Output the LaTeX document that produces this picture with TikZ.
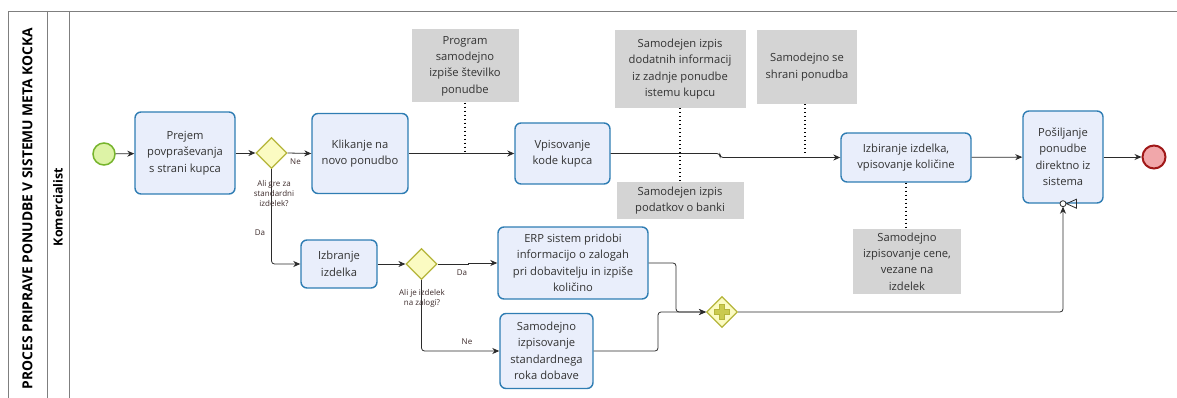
\documentclass[tikz,border=0pt]{standalone}
\usepackage{fontspec}
\setmainfont{Open Sans}
\usetikzlibrary{arrows.meta,shapes.geometric}
\definecolor{taskfill}{HTML}{E9EEFB}
\definecolor{taskline}{HTML}{2F7DB3}
\definecolor{gwfill}{HTML}{FBFBC2}
\definecolor{gwline}{HTML}{B5B53A}
\definecolor{plusfill}{HTML}{CACA4E}
\definecolor{notefill}{HTML}{D4D4D4}
\definecolor{textc}{HTML}{333333}
\definecolor{flowc}{HTML}{2B2B2B}
\definecolor{lblc}{HTML}{3D2B2B}
\definecolor{poolc}{HTML}{7F7F7F}
\definecolor{startfill}{HTML}{DDF3A6}
\definecolor{startline}{HTML}{76B42C}
\definecolor{endfill}{HTML}{F1A7AA}
\definecolor{endline}{HTML}{A01818}
\begin{document}
\begin{tikzpicture}[x=1pt,y=-1pt,
  task/.style={draw=taskline,fill=taskfill,line width=1.4pt,rounded corners=6pt,
    align=center,text=textc,inner sep=2pt,font=\fontsize{11.2}{16.5}\selectfont},
  note/.style={fill=notefill,align=center,text=textc,inner sep=2pt,
    font=\fontsize{11.2}{16.3}\selectfont},
  gateway/.style={diamond,draw=gwline,fill=gwfill,line width=1.2pt,
    minimum width=31,minimum height=31,inner sep=0pt},
  flow/.style={draw=flowc,line width=0.8pt,rounded corners=3pt,
    -{Stealth[length=7pt,width=6pt]}},
  assoc/.style={draw=black,line width=1.2pt,dash pattern=on 1.2pt off 2.8pt},
  lbl/.style={text=lblc,font=\fontsize{8}{10}\selectfont,align=center,inner sep=0pt},
  poolline/.style={draw=poolc,line width=0.9pt}]
\useasboundingbox (0,0) rectangle (1177,398);

% pool and lane frame
\draw[poolline] (8,398) -- (8,11) -- (1177,11);
\draw[poolline] (47,11) -- (47,398);
\draw[poolline] (69,11) -- (69,398);
\node[rotate=90,font=\bfseries\fontsize{13.8}{15}\selectfont,text=black] (pooltitle) at (27.5,208.5)
  {PROCES PRIPRAVE PONUDBE V SISTEMU META KOCKA};
\node[rotate=90,font=\bfseries\fontsize{12.5}{14}\selectfont,text=black] (lanetitle) at (58,207)
  {Komercialist};

% events
\node[circle,draw=startline,fill=startfill,line width=1.5pt,minimum size=22,inner sep=0pt] (start) at (104,154) {};
\node[circle,draw=endline,fill=endfill,line width=2pt,minimum size=23,inner sep=0pt] (end) at (1154,157) {};

% tasks
\node[task,minimum width=100,minimum height=82] (t1) at (185,153) {Prejem\\povpraševanja\\s strani kupca};
\node[task,minimum width=96,minimum height=80] (t2) at (360,153.5) {Klikanje na\\novo ponudbo};
\node[task,minimum width=95,minimum height=61] (t3) at (562.5,153.5) {Vpisovanje\\kode kupca};
\node[task,minimum width=130,minimum height=49] (t4) at (906,157.5) {Izbiranje izdelka,\\vpisovanje količine};
\node[task,minimum width=80,minimum height=92] (t5) at (1063,157) {Pošiljanje\\ponudbe\\direktno iz\\sistema};
\node[task,minimum width=76,minimum height=48] (t6) at (339,264) {Izbranje\\izdelka};
\node[task,minimum width=150,minimum height=72] (t7) at (573,263) {ERP sistem pridobi\\informacijo o zalogah\\pri dobavitelju in izpiše\\količino};
\node[task,minimum width=93,minimum height=75] (t8) at (546.5,351) {Samodejno\\izpisovanje\\standardnega\\roka dobave};

% gateways
\node[gateway] (g1) at (271.5,153) {};
\node[gateway] (g2) at (421.5,264) {};
\node[gateway] (g3) at (722,312) {};
\fill[plusfill,draw=gwline,line width=0.8pt,shift={(g3.center)}]
  (-2.3,-7.5) -- (2.3,-7.5) -- (2.3,-2.3) -- (7.5,-2.3) -- (7.5,2.3) -- (2.3,2.3) --
  (2.3,7.5) -- (-2.3,7.5) -- (-2.3,2.3) -- (-7.5,2.3) -- (-7.5,-2.3) -- (-2.3,-2.3) -- cycle;

% annotations
\node[note,minimum width=107,minimum height=73] (a1) at (465,66) {Program\\samodejno\\izpiše številko\\ponudbe};
\node[note,minimum width=131,minimum height=78] (a2) at (680,69) {Samodejen izpis\\dodatnih informacij\\iz zadnje ponudbe\\istemu kupcu};
\node[note,minimum width=127,minimum height=37] (a3) at (680,200.5) {Samodejen izpis\\podatkov o banki};
\node[note,minimum width=100,minimum height=74] (a4) at (807,67) {Samodejno se\\shrani ponudba};
\node[note,minimum width=108,minimum height=65] (a5) at (907,261.5) {Samodejno\\izpisovanje cene,\\vezane na\\izdelek};

% message marker on the last task
\draw[flowc,line width=0.8pt,fill=white] (t5.south) circle (3);
\draw[flowc,line width=0.8pt] ([xshift=3.5pt]t5.south) -- ++(10,-4.5) -- ++(0,9) -- cycle;

% sequence flows
\draw[flow] (start) -- (t1);
\draw[flow] (t1) -- (g1);
\draw[flow] (g1.east) -- (t2.west);
\draw[flow] (t2.east) -- (t3.west |- t2.east);
\coordinate (k1) at (720,153.5);
\draw[flow] (t3.east) -- (k1) |- (t4.west);
\draw[flow] (t4) -- (t5);
\draw[flow] (t5) -- (end);
\draw[flow] (g1.south) |- (t6.west);
\draw[flow] (t6) -- (g2);
\coordinate (k2) at (468,264);
\draw[flow,rounded corners=0pt] (g2.east) -- (k2) |- (t7.west);
\draw[flow] (g2.south) |- (t8.west);
\coordinate (j1) at (676,312);
\coordinate (j2) at (658,312);
\draw[flow] (t7.east) -| (j1) -- (g3.west);
\draw[flow] (t8.east) -| (j2) -- (g3.west);
\draw[flow] (g3.east) -| ([yshift=-3pt]t5.south);

% flow labels
\node[lbl] (lne1) at (295.5,162) {Ne};
\node[lbl] (lq1) at (274,194) {Ali gre za\\standardni\\izdelek?};
\node[lbl] (lda1) at (260,233) {Da};
\node[lbl] (lq2) at (422,298) {Ali je izdelek\\na zalogi?};
\node[lbl] (lda2) at (462,273) {Da};
\node[lbl] (lne2) at (467,342) {Ne};

% associations
\coordinate (p1) at (a1.south |- t3.west);
\draw[assoc] (a1.south) -- (p1);
\draw[assoc] (a2.south) -- (a3.north);
\coordinate (p4) at (805,155);
\draw[assoc] (a4.south -| p4) -- (p4);
\draw[assoc] (t4.south) -- (t4.south |- a5.north);
\end{tikzpicture}
\end{document}
